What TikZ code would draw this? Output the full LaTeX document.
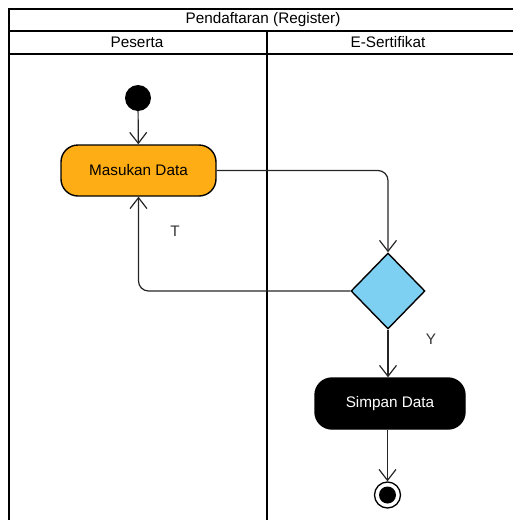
\documentclass[tikz,border=0pt]{standalone}
\usepackage{fontspec}
\setmainfont{Liberation Sans}
\usetikzlibrary{arrows.meta,shapes.geometric}
\definecolor{actorange}{HTML}{FFAD14}
\definecolor{decblue}{HTML}{7DD0F2}
\begin{document}
\begin{tikzpicture}[x=1pt,y=-1pt,
  pool/.style={line width=2pt,black},
  txt/.style={font=\fontsize{15.3}{17}\selectfont},
  act/.style={txt,draw=black,line width=1.4pt,rounded corners=17pt,minimum height=51pt,inner sep=0pt},
  flow/.style={draw=black!85,line width=1.2pt,rounded corners=10pt,-{Straight Barb[length=11pt,width=17pt,line width=1.2pt]}},
  lbl/.style={txt,text=black!80}]
\useasboundingbox (0,0) rectangle (513,520);
% swimlane frame
\draw[pool] (9,520) -- (9,9) -- (520,9);
\draw[pool] (9,31) -- (520,31);
\draw[pool] (9,53.5) -- (520,53.5);
\draw[pool] (266.5,31) -- (266.5,520);
\node[txt] (title) at (263,20) {Pendaftaran (Register)};
\node[txt] (lane1) at (137,42.5) {Peserta};
\node[txt] (lane2) at (388,42.5) {E-Sertifikat};
% nodes
\node[circle,fill=black,minimum size=26pt,inner sep=0pt] (start) at (138,98) {};
\node[act,fill=actorange,minimum width=155pt] (input) at (138.5,170.5) {Masukan Data};
\node[diamond,draw=black,line width=1.4pt,fill=decblue,minimum width=74pt,minimum height=76pt,inner sep=0pt,aspect=1] (dec) at (388,291) {};
\node[act,fill=black,text=white,minimum width=150pt] (save) at (390,403.5) {Simpan Data};
\node[circle,draw=black,line width=1.3pt,minimum size=26pt,inner sep=0pt] (endo) at (387.5,495) {};
\node[circle,fill=black,minimum size=17pt,inner sep=0pt] (endi) at (endo) {};
% connectors
\draw[flow] (start) -- (input);
\draw[flow] (input.east) -| (dec.north);
\draw[flow] (dec.west) -| (input.south);
\draw[flow] (dec.south) -- (dec.south |- save.north);
\draw[flow] (save.south -| endo.north) -- (endo.north);
% guard labels
\node[lbl] (tlbl) at (175,231) {T};
\node[lbl] (ylbl) at (431,339) {Y};
\end{tikzpicture}
\end{document}
